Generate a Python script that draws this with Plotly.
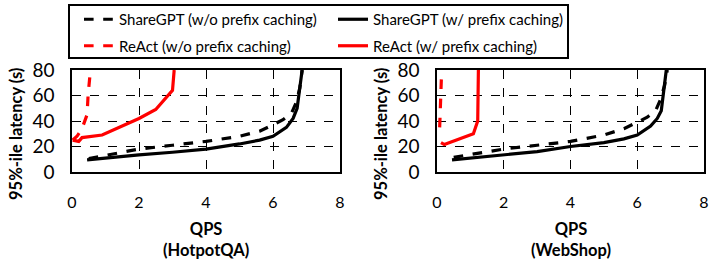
import plotly.graph_objects as go

# ---- data (HotpotQA, left) ----
h_sg_wo_x = [0.5, 1.0, 2.0, 3.0, 4.0, 5.0, 5.6, 6.0, 6.3, 6.55, 6.7, 6.8, 6.87]
h_sg_wo_y = [10.5, 13, 18, 21, 24, 28, 32, 37, 41, 46, 55, 66, 80]
h_sg_w_x = [0.45, 1.0, 2.0, 3.0, 4.0, 5.0, 5.6, 6.0, 6.4, 6.6, 6.72, 6.8, 6.87]
h_sg_w_y = [9.5, 11, 13.5, 15.5, 18, 22, 25, 28, 35, 42, 50, 66, 80]
h_ra_wo_x = [0.02, 0.15, 0.3, 0.45, 0.48, 0.52, 0.55]
h_ra_wo_y = [25, 28, 34, 45, 60, 70, 80]
h_ra_w_x = [0.02, 0.2, 0.3, 0.9, 2.0, 2.5, 3.0, 3.05]
h_ra_w_y = [25, 24, 27, 29, 42, 49, 64, 80]

# ---- data (WebShop, right) ----
w_sg_wo_x = [0.5, 1.0, 2.0, 3.0, 4.0, 5.0, 5.6, 6.0, 6.3, 6.55, 6.7, 6.82, 6.9]
w_sg_wo_y = [11.5, 13.5, 18, 21, 24, 29, 34, 39, 43, 48, 57, 68, 80]
w_sg_w_x = [0.45, 1.0, 2.0, 3.0, 4.0, 5.0, 5.6, 6.0, 6.4, 6.6, 6.72, 6.8, 6.87]
w_sg_w_y = [9.5, 11, 13.5, 16, 20, 23, 26, 29, 36, 42, 48, 66, 80]
w_ra_wo_x = [0.08, 0.09, 0.1, 0.12, 0.14]
w_ra_wo_y = [35, 42, 50, 65, 80]
w_ra_w_x = [0.12, 0.22, 1.09, 1.22, 1.24]
w_ra_w_y = [23, 21.5, 30, 40, 80]

x_ticks = [0, 2, 4, 6, 8]
y_ticks = [0, 20, 40, 60, 80]

names = ["ShareGPT (w/o prefix caching)", "ShareGPT (w/ prefix caching)",
         "ReAct (w/o prefix caching)", "ReAct (w/ prefix caching)"]

FONT = "Lato"
fig = go.Figure()

styles = [("black", "dash", "legend"), ("black", "solid", "legend2"),
          ("red", "dash", "legend"), ("red", "solid", "legend2")]
sets = [
    ("x", "y", [(h_sg_wo_x, h_sg_wo_y), (h_sg_w_x, h_sg_w_y), (h_ra_wo_x, h_ra_wo_y), (h_ra_w_x, h_ra_w_y)], True),
    ("x2", "y2", [(w_sg_wo_x, w_sg_wo_y), (w_sg_w_x, w_sg_w_y), (w_ra_wo_x, w_ra_wo_y), (w_ra_w_x, w_ra_w_y)], False),
]
for xa, ya, data, show in sets:
    for (x, y), nm, (c, d, lg) in zip(data, names, styles):
        fig.add_trace(go.Scatter(
            x=x, y=y, mode="lines", name=nm, legendgroup=nm, showlegend=show, legend=lg,
            line=dict(color=c, width=3.2, dash=d), xaxis=xa, yaxis=ya))

W, H = 714, 262
y_dom = [(262 - 172) / H, (262 - 70) / H]
dom1 = [72 / W, 340 / W]
dom2 = [437 / W, 704 / W]

xax = dict(range=[0, 8], tickvals=x_ticks, showgrid=True, gridcolor="black", griddash="dash",
           gridwidth=1, showline=True, linecolor="black", linewidth=1.5, mirror=True,
           zeroline=False, ticks="", tickfont=dict(family=FONT, size=16, color="black"),
           ticklabelstandoff=15, automargin=False)
yax = dict(range=[0, 80], tickvals=y_ticks, showgrid=True, gridcolor="black", griddash="dash",
           gridwidth=1, showline=True, linecolor="black", linewidth=1.5, mirror=True,
           zeroline=False, ticks="", tickfont=dict(family=FONT, size=19, color="black"),
           ticklabelstandoff=12, domain=y_dom, automargin=False)

leg_common = dict(orientation="v", xanchor="left", yanchor="top", y=1 - 3 / H,
                  bgcolor="rgba(0,0,0,0)", borderwidth=0, tracegroupgap=4, itemwidth=30,
                  font=dict(family=FONT, size=15, color="black"))

fig.update_layout(
    width=W, height=H, margin=dict(l=0, r=0, t=0, b=0, autoexpand=False),
    paper_bgcolor="white", plot_bgcolor="white",
    xaxis=dict(xax, domain=dom1, anchor="y"),
    yaxis=dict(yax, anchor="x"),
    xaxis2=dict(xax, domain=dom2, anchor="y2"),
    yaxis2=dict(yax, anchor="x2"),
    legend=dict(leg_common, x=79 / W),
    legend2=dict(leg_common, x=333 / W),
    showlegend=True,
)

# legend frame
fig.add_shape(type="rect", xref="paper", yref="paper",
              x0=69 / W, x1=568 / W, y0=1 - 58 / H, y1=1 - 5 / H,
              line=dict(color="black", width=2), fillcolor="rgba(0,0,0,0)", layer="above")

ann_font = dict(family=FONT, size=16.5, color="black")
fig.add_annotation(text="<b>QPS</b><br><b>(HotpotQA)</b>", x=(dom1[0] + dom1[1]) / 2, y=1 - 217 / H,
                   xref="paper", yref="paper", xanchor="center", yanchor="top", showarrow=False,
                   font=ann_font, align="center")
fig.add_annotation(text="<b>QPS</b><br><b>(WebShop)</b>", x=(dom2[0] + dom2[1]) / 2, y=1 - 217 / H,
                   xref="paper", yref="paper", xanchor="center", yanchor="top", showarrow=False,
                   font=ann_font, align="center")
for xc in [16 / W, 381 / W]:
    fig.add_annotation(text="<b>95%-ile latency (s)</b>", x=xc, y=1 - 134 / H,
                       xref="paper", yref="paper", xanchor="center", yanchor="middle",
                       textangle=-90, showarrow=False, font=dict(family=FONT, size=16.5, color="black"))

fig.write_html("out.html", config={"displayModeBar": False},
               post_script="document.body.style.margin='0';document.body.style.overflow='hidden';")
